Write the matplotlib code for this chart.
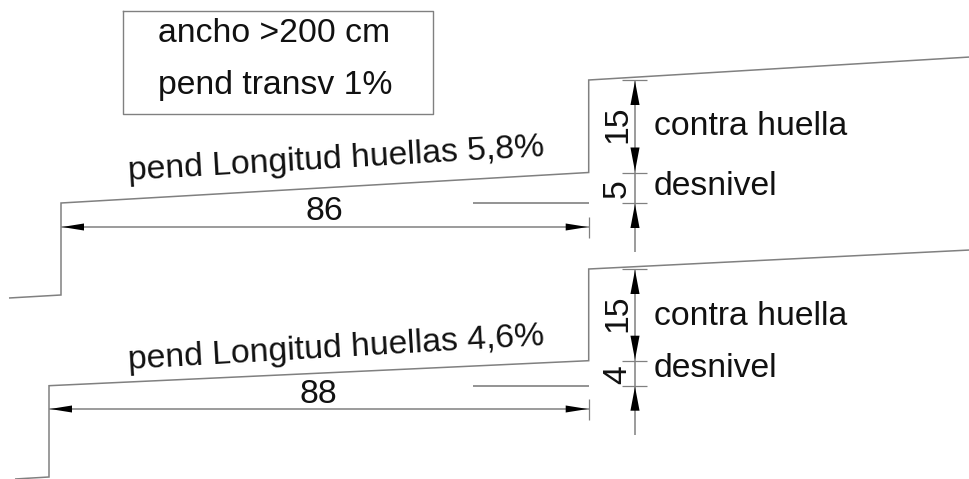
import matplotlib
matplotlib.use('Agg')
import matplotlib.pyplot as plt

plt.rcParams['font.family'] = ['Liberation Sans', 'DejaVu Sans']

# profile of the two steps in pixels (y going down)
upper_x = [9, 61, 61, 588.7, 588.7, 970]
upper_y = [298, 295, 203, 172.5, 80, 57]
lower_x = [15, 49, 49, 588.7, 588.7, 970]
lower_y = [479, 477, 385.7, 360.7, 269, 250]

upper_floor_y = 203
lower_floor_y = 385.7
floor_x = [473, 588.7]
riser_x = 588.7
dim_x = 635

upper_dim_y = 227
lower_dim_y = 409
upper_dim_end = 252
lower_dim_end = 435

upper_run = '86'
lower_run = '88'
upper_rise = ['15', '5']
lower_rise = ['15', '4']
upper_slope = 'pend Longitud huellas 5,8%'
lower_slope = 'pend Longitud huellas 4,6%'
box_lines = ['ancho >200 cm', 'pend transv 1%']

LINE = '#808080'
TEXT = '#111111'
FS = 24.3

fig = plt.figure(figsize=(9.70, 4.79), dpi=100)
ax = fig.add_axes([0, 0, 1, 1])
ax.set_xlim(0, 970)
ax.set_ylim(479, 0)
ax.axis('off')


def arrow(x, y, dx, dy, ratio):
    # filled arrow head with the tip on x,y pointing away from dx,dy
    ax.fill([x, x + dx + dy * ratio, x + dx - dy * ratio],
            [y, y + dy + dx * ratio, y + dy - dx * ratio],
            color='black', lw=0, zorder=3)


def line(xs, ys, lw=1.1):
    ax.plot(xs, ys, color=LINE, lw=lw, solid_capstyle='butt', solid_joinstyle='miter')


def label(x, y, s, rot=0, ha='center'):
    ax.text(x, y, s, fontsize=FS, color=TEXT, rotation=rot, rotation_mode='anchor',
            ha=ha, va='baseline')


def step(xs, ys, floor_y, dim_y, dim_end, run, run_xy, rise, rise_y, slope, slope_y, labels_y):
    line(xs, ys)
    line(floor_x, [floor_y, floor_y], lw=1.2)

    # horizontal dimension
    left = xs[2]
    line([left, riser_x], [dim_y, dim_y])
    line([riser_x, riser_x], [dim_y - 10, dim_y + 11], lw=0.9)
    arrow(left + 1, dim_y, 22, 0, 0.16)
    arrow(riser_x - 1, dim_y, -22, 0, 0.16)
    label(run_xy[0], run_xy[1], run)

    # vertical dimension
    top = ys[4]
    mid = ys[3]
    line([dim_x, dim_x], [top, dim_end])
    for y in (top, mid, floor_y):
        line([622, 647], [y, y], lw=0.9)
    arrow(dim_x, top + 1, 0, 24, 0.19)
    arrow(dim_x, mid - 1, 0, -24, 0.19)
    arrow(dim_x, floor_y + 1, 0, 24, 0.19)

    label(626, rise_y[0], rise[0], rot=90)
    label(626, rise_y[1], rise[1], rot=90)
    label(654, labels_y[0], 'contra huella', ha='left')
    label(654, labels_y[1], 'desnivel', ha='left')

    label(337, slope_y, slope, rot=3.3)


step(upper_x, upper_y, upper_floor_y, upper_dim_y, upper_dim_end, upper_run, (324, 220),
     upper_rise, (124.5, 189), upper_slope, 168, (135, 195))
step(lower_x, lower_y, lower_floor_y, lower_dim_y, lower_dim_end, lower_run, (318, 403),
     lower_rise, (313.5, 375), lower_slope, 357, (325, 377))

# box top left
ax.plot([122.7, 433, 433, 122.7, 122.7], [11, 11, 113.7, 113.7, 11], color=LINE, lw=1.0)
label(274, 41.7, box_lines[0])
label(275, 94, box_lines[1])

fig.savefig('out.png', dpi=100)
